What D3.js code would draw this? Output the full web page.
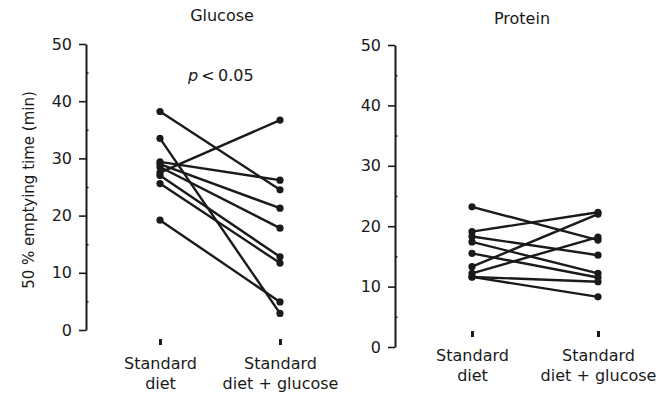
<!DOCTYPE html>
<html>
<head>
<meta charset="utf-8">
<script src="https://cdn.jsdelivr.net/npm/d3@7"></script>
<style>
  body { margin: 0; background: #fff; }
  svg { display: block; font-family: "DejaVu Sans", sans-serif; }
</style>
</head>
<body>
<svg id="chart"></svg>
<script>
// data
const categories = ["Standard diet", "Standard diet + glucose"];
const categoryLines = [["Standard", "diet"], ["Standard", "diet + glucose"]];
const yTicks = [0, 10, 20, 30, 40, 50];
const yMinorTicks = [5, 15, 25, 35, 45];

const glucoseBefore = [38.2, 33.5, 29.4, 29.0, 28.5, 27.5, 27.0, 25.6, 19.2];
const glucoseAfter  = [24.5, 2.9, 26.2, 21.3, 17.8, 36.7, 12.8, 11.7, 4.9];

const proteinBefore = [23.2, 19.1, 18.3, 17.4, 15.5, 13.3, 12.2, 11.6, 11.6];
const proteinAfter  = [17.7, 22.3, 15.2, 12.2, 11.5, 22.0, 18.2, 10.8, 8.3];

const width = 659;
const height = 395;
const ink = "#1a1a1a";

const svg = d3.select("#chart")
    .attr("width", width)
    .attr("height", height)
    .attr("viewBox", [0, 0, width, height]);

function panel({title, titleX, titleY, before, after, axisX, yRange, xRange, catY}) {
  const y = d3.scaleLinear().domain([0, 50]).range(yRange);
  const x = d3.scalePoint().domain(categories).range(xRange);

  // y axis
  svg.append("g")
      .attr("transform", `translate(${axisX},0)`)
      .call(d3.axisLeft(y).tickValues(yTicks).tickSize(7).tickPadding(7).tickSizeOuter(0))
      .call(g => g.select(".domain").attr("stroke", ink).attr("stroke-width", 2))
      .call(g => g.selectAll(".tick line").attr("stroke", ink).attr("stroke-width", 1.6))
      .call(g => g.selectAll(".tick text")
          .attr("fill", ink)
          .attr("font-size", 16)
          .attr("font-family", "DejaVu Sans"));

  // minor ticks, small marks on the inside
  svg.append("g")
      .attr("transform", `translate(${axisX},0)`)
      .call(d3.axisLeft(y).tickValues(yMinorTicks).tickSize(-2.5).tickFormat(""))
      .call(g => g.select(".domain").remove())
      .call(g => g.selectAll(".tick line").attr("stroke", ink).attr("stroke-width", 1.5));

  // category axis: only the short tick marks and two-line labels
  const cat = svg.append("g")
      .attr("transform", `translate(0,${catY})`)
      .call(d3.axisBottom(x).tickSize(6).tickPadding(10).tickFormat(""))
      .call(g => g.select(".domain").remove())
      .call(g => g.selectAll(".tick line").attr("stroke", ink).attr("stroke-width", 3));
  cat.selectAll(".tick text")
      .data(categoryLines)
      .attr("fill", ink)
      .attr("font-size", 16)
      .attr("font-family", "DejaVu Sans")
      .attr("text-anchor", "middle")
      .attr("y", 19)
      .attr("dy", 0)
      .selectAll("tspan")
      .data(d => d)
      .join("tspan")
        .attr("x", 0)
        .attr("dy", (d, i) => i === 0 ? "0.71em" : "1.2em")
        .text(d => d);

  // paired lines
  svg.append("g")
    .selectAll("line")
    .data(before.map((b, i) => [b, after[i]]))
    .join("line")
      .attr("x1", x(categories[0]))
      .attr("x2", x(categories[1]))
      .attr("y1", d => y(d[0]))
      .attr("y2", d => y(d[1]))
      .attr("stroke", ink)
      .attr("stroke-width", 2.4);

  const pts = [];
  before.forEach(v => pts.push([categories[0], v]));
  after.forEach(v => pts.push([categories[1], v]));
  svg.append("g")
    .selectAll("circle")
    .data(pts)
    .join("circle")
      .attr("cx", d => x(d[0]))
      .attr("cy", d => y(d[1]))
      .attr("r", 3.6)
      .attr("fill", ink);

  svg.append("text")
      .attr("x", titleX)
      .attr("y", titleY)
      .attr("text-anchor", "middle")
      .attr("font-size", 16)
      .attr("fill", ink)
      .text(title);

  return {x, y};
}

panel({
  title: "Glucose", titleX: 222, titleY: 21,
  before: glucoseBefore, after: glucoseAfter,
  axisX: 86, yRange: [330, 44], xRange: [160, 280], catY: 339
});

panel({
  title: "Protein", titleX: 522, titleY: 24,
  before: proteinBefore, after: proteinAfter,
  axisX: 395, yRange: [347, 45], xRange: [472, 598], catY: 331
});

// y axis title
svg.append("text")
    .attr("transform", "translate(34,190) rotate(-90)")
    .attr("text-anchor", "middle")
    .attr("font-size", 15)
    .attr("fill", ink)
    .text("50 % emptying time (min)");

// significance note
svg.append("text")
    .attr("x", 188)
    .attr("y", 81)
    .attr("font-size", 16)
    .attr("fill", ink)
    .call(t => t.append("tspan").attr("font-style", "italic").text("p"))
    .call(t => t.append("tspan").text("\u2009<\u20090.05"));
</script>
</body>
</html>
